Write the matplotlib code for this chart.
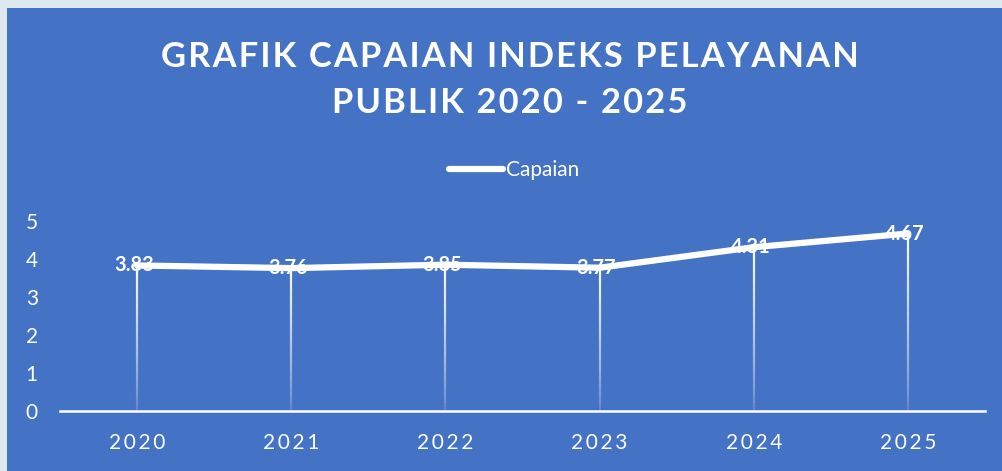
import matplotlib.pyplot as plt
import numpy as np
from matplotlib.collections import LineCollection
from matplotlib.patches import Rectangle

plt.rcParams['font.family'] = ['Lato', 'DejaVu Sans']

# Data
years = ['2020', '2021', '2022', '2023', '2024', '2025']
capaian = [3.83, 3.76, 3.85, 3.77, 4.31, 4.67]
y_ticks = [0, 1, 2, 3, 4, 5]

bg_blue = '#4472C4'
frame = '#DEE9EF'


def spaced(s, sep='\u200a'):
    return sep.join(s)


fig = plt.figure(figsize=(10.02, 4.71), dpi=100)
fig.patch.set_facecolor(frame)
fig.patches.append(Rectangle((7 / 1002, 0), 1, 1 - 8 / 471, transform=fig.transFigure,
                             facecolor=bg_blue, edgecolor='none', zorder=-5))

ax = fig.add_axes([0.0599, 0.1274, 0.9232, 0.4034])
ax.set_zorder(2)
ax.set_facecolor('none')
x = np.arange(len(years))

# Drop lines fading toward the axis
segs, cols = [], []
for xi, v in zip(x, capaian):
    ys = np.linspace(0, v, 40)
    for i in range(len(ys) - 1):
        segs.append([(xi, ys[i]), (xi, ys[i + 1])])
        cols.append((1, 1, 1, 0.15 + 0.85 * (ys[i] / v) ** 0.8))
ax.add_collection(LineCollection(segs, colors=cols, linewidths=1.6, zorder=2))

# Value labels
for xi, v in zip(x, capaian):
    ax.text(xi - 0.02, v, f'{v:.2f}', color='white', fontsize=14.5, fontweight='bold',
            ha='center', va='center', zorder=3)

line, = ax.plot(x, capaian, color='white', linewidth=4.5, solid_capstyle='round', zorder=4)

ax.set_xlim(-0.5, 5.5)
ax.set_ylim(0, 5)
ax.set_xticks(x)
ax.set_xticklabels([spaced(y, '\u2009') for y in years], color='white', fontsize=15)
ax.set_yticks(y_ticks)
ax.set_yticklabels([str(t) for t in y_ticks], color='white', fontsize=15)
ax.tick_params(axis='x', length=0, pad=16)
ax.tick_params(axis='y', length=0, pad=16)
for s in ['top', 'right', 'left']:
    ax.spines[s].set_visible(False)
ax.spines['bottom'].set_color('white')
ax.spines['bottom'].set_linewidth(1.8)

fig.text(0.509, 1 - 57 / 471, spaced('GRAFIK CAPAIAN INDEKS PELAYANAN'), color='white',
         fontsize=24.8, fontweight='bold', ha='center', va='center')
fig.text(0.509, 1 - 103 / 471, spaced('PUBLIK 2020 - 2025'), color='white',
         fontsize=24.8, fontweight='bold', ha='center', va='center')

leg = fig.legend([line], ['Capaian'], loc='center', bbox_to_anchor=(0.513, 1 - 170 / 471),
                 frameon=False, fontsize=15, handlelength=2.6, handletextpad=0.1)
for t in leg.get_texts():
    t.set_color('white')

fig.savefig('out.png', dpi=100, facecolor=fig.get_facecolor())
